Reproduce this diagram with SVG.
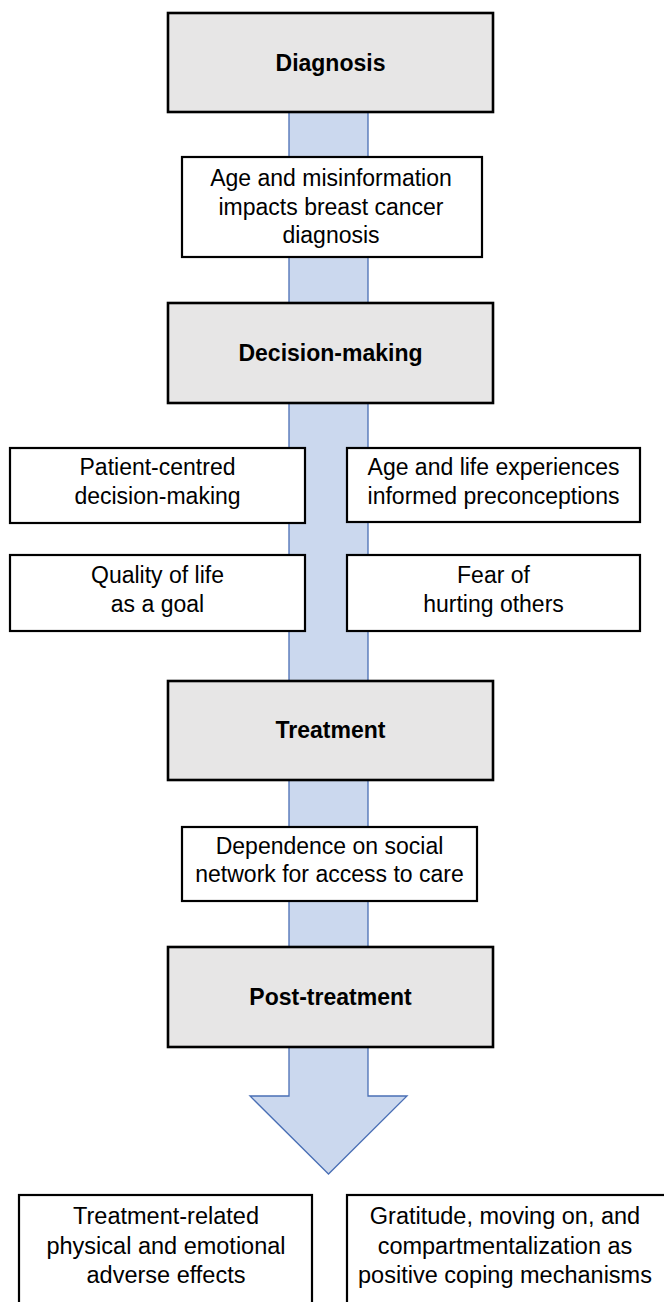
<svg xmlns="http://www.w3.org/2000/svg" width="664" height="1302" viewBox="0 0 664 1302">
  <style>
    .stage { fill: #e7e6e6; stroke: #000; stroke-width: 2.6; }
    .theme { fill: #fff; stroke: #000; stroke-width: 2.2; }
    .flow { fill: #cbd8ee; stroke: #4a6fb5; stroke-width: 1.3; stroke-linejoin: miter; }
    .title { font-family: "Liberation Sans", Arial, sans-serif; font-weight: bold; font-size: 23px; fill: #000; text-anchor: middle; }
    .label { font-family: "Liberation Sans", Arial, sans-serif; font-size: 23px; fill: #000; text-anchor: middle; }
    .outcome { font-size: 23.5px; }
  </style>

  <rect width="664" height="1302" fill="#fff"/>

  <!-- central flow band ending in a down arrow -->
  <g id="connectors">
    <polygon class="flow" points="289,112 368,112 368,1096 407,1096 328.5,1174 250,1096 289,1096"/>
  </g>

  <g id="stage-diagnosis">
    <rect class="stage" x="168" y="13" width="325" height="99"/>
    <text class="title" x="330.5" y="71">Diagnosis</text>
  </g>

  <g id="theme-age-misinformation">
    <rect class="theme" x="182" y="157" width="300" height="100"/>
    <text class="label" x="331" y="186">Age and misinformation</text>
    <text class="label" x="331" y="215">impacts breast cancer</text>
    <text class="label" x="331" y="243">diagnosis</text>
  </g>

  <g id="stage-decision">
    <rect class="stage" x="168" y="303" width="325" height="100"/>
    <text class="title" x="330.5" y="361">Decision-making</text>
  </g>

  <g id="theme-patient-centred">
    <rect class="theme" x="10" y="448" width="295" height="75"/>
    <text class="label" x="157.5" y="475">Patient-centred</text>
    <text class="label" x="157.5" y="504">decision-making</text>
  </g>

  <g id="theme-preconceptions">
    <rect class="theme" x="347" y="448" width="293" height="74"/>
    <text class="label" x="493.5" y="475">Age and life experiences</text>
    <text class="label" x="493.5" y="504">informed preconceptions</text>
  </g>

  <g id="theme-quality-of-life">
    <rect class="theme" x="10" y="555" width="295" height="76"/>
    <text class="label" x="157.5" y="583">Quality of life</text>
    <text class="label" x="157.5" y="612">as a goal</text>
  </g>

  <g id="theme-fear">
    <rect class="theme" x="347" y="555" width="293" height="76"/>
    <text class="label" x="493.5" y="583">Fear of</text>
    <text class="label" x="493.5" y="612">hurting others</text>
  </g>

  <g id="stage-treatment">
    <rect class="stage" x="168" y="681" width="325" height="99"/>
    <text class="title" x="330.5" y="738">Treatment</text>
  </g>

  <g id="theme-social-network">
    <rect class="theme" x="182" y="827" width="295" height="74"/>
    <text class="label" x="329.5" y="854">Dependence on social</text>
    <text class="label" x="329.5" y="882">network for access to care</text>
  </g>

  <g id="stage-post-treatment">
    <rect class="stage" x="168" y="947" width="325" height="100"/>
    <text class="title" x="330.5" y="1005">Post-treatment</text>
  </g>

  <g id="theme-adverse-effects">
    <rect class="theme" x="19" y="1195" width="293" height="120"/>
    <text class="label outcome" x="166" y="1224">Treatment-related</text>
    <text class="label outcome" x="166" y="1254">physical and emotional</text>
    <text class="label outcome" x="166" y="1283">adverse effects</text>
  </g>

  <g id="theme-coping">
    <rect class="theme" x="347" y="1195" width="330" height="120"/>
    <text class="label outcome" x="505" y="1224">Gratitude, moving on, and</text>
    <text class="label outcome" x="505" y="1254">compartmentalization as</text>
    <text class="label outcome" x="505" y="1283">positive coping mechanisms</text>
  </g>
</svg>
